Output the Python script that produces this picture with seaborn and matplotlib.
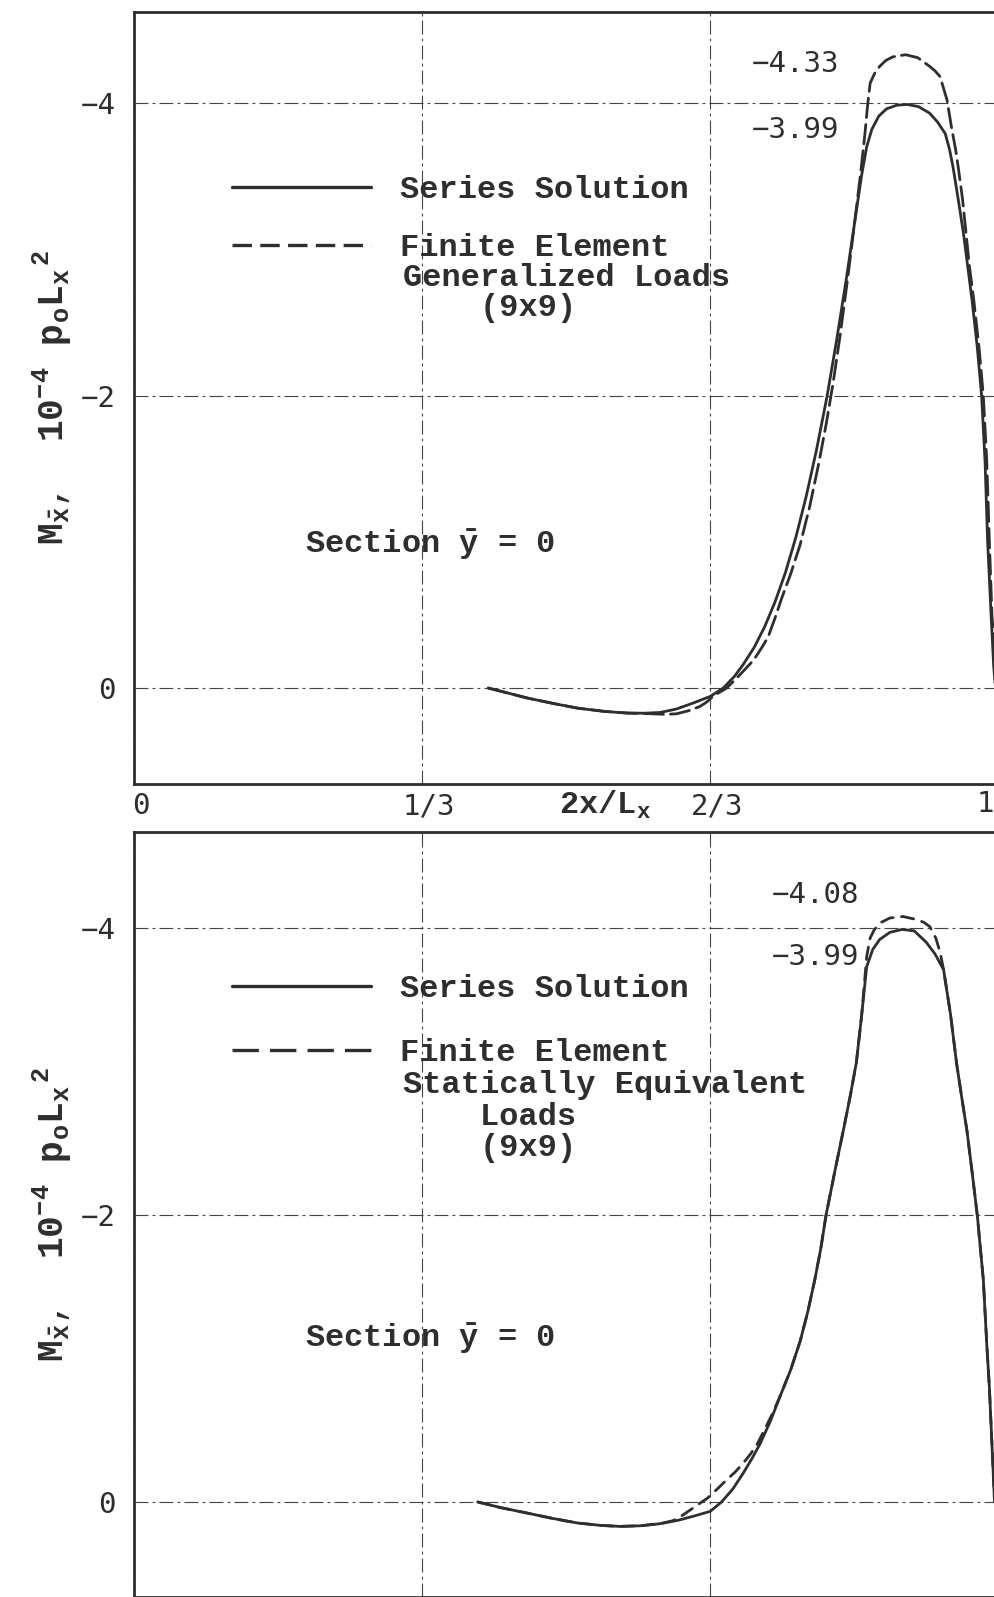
import numpy as np
import pandas as pd
import matplotlib
matplotlib.use("Agg")
import matplotlib.pyplot as plt
import matplotlib.transforms as mtransforms
import seaborn as sns
from matplotlib.lines import Line2D

# ---------------- data ----------------
x_ticks = [0, 1/3, 2/3, 1]
x_ticklabels = ["0", "1/3", "2/3", ""]
x_last_label = "1"
y_ticks = [-4, -2, 0]
y_ticklabels = ["\u22124", "\u22122", "0"]

# Top panel: Series solution
top_series_x = [0.410, 0.430, 0.455, 0.485, 0.513, 0.545, 0.571, 0.590, 0.609, 0.628,
                0.647, 0.667, 0.682, 0.695, 0.705, 0.718, 0.730, 0.742, 0.754, 0.766,
                0.778, 0.790, 0.802, 0.813, 0.824, 0.834, 0.842, 0.848, 0.854, 0.862,
                0.871, 0.883, 0.895, 0.908, 0.921, 0.930, 0.939, 0.944, 0.948, 0.954,
                0.960, 0.965, 0.970, 0.976, 0.981, 0.985, 0.988, 0.992, 0.995, 0.997]
top_series_y = [0.000, 0.030, 0.068, 0.105, 0.137, 0.160, 0.171, 0.172, 0.167, 0.143,
                0.103, 0.057, 0.000, -0.080, -0.160, -0.280, -0.420, -0.590, -0.790, -1.030,
                -1.310, -1.630, -1.990, -2.370, -2.780, -3.180, -3.500, -3.700, -3.820, -3.910,
                -3.960, -3.985, -3.990, -3.975, -3.930, -3.870, -3.790, -3.680, -3.560, -3.340,
                -3.110, -2.880, -2.650, -2.330, -2.000, -1.550, -1.000, -0.500, -0.150, 0.000]
# Top panel: Finite element, generalized loads (9x9)
top_fe_x = [0.410, 0.430, 0.455, 0.485, 0.513, 0.545, 0.571, 0.590, 0.600, 0.615,
            0.628, 0.642, 0.655, 0.663, 0.670, 0.678, 0.686, 0.701, 0.717, 0.727,
            0.734, 0.742, 0.750, 0.760, 0.771, 0.782, 0.792, 0.801, 0.809, 0.817,
            0.826, 0.834, 0.841, 0.846, 0.849, 0.852, 0.857, 0.863, 0.870, 0.878,
            0.893, 0.907, 0.921, 0.927, 0.933, 0.941, 0.946, 0.951, 0.954, 0.959,
            0.963, 0.967, 0.972, 0.978, 0.983, 0.987, 0.990, 0.993, 0.997, 0.999]
top_fe_y = [0.000, 0.030, 0.068, 0.105, 0.137, 0.160, 0.171, 0.174, 0.176, 0.180,
            0.176, 0.155, 0.126, 0.095, 0.057, 0.028, 0.000, -0.089, -0.190, -0.280,
            -0.350, -0.480, -0.620, -0.780, -0.980, -1.240, -1.520, -1.800, -2.080, -2.400,
            -2.800, -3.180, -3.520, -3.790, -3.980, -4.135, -4.200, -4.250, -4.290, -4.315,
            -4.330, -4.310, -4.250, -4.220, -4.180, -4.020, -3.840, -3.680, -3.560, -3.340,
            -3.110, -2.880, -2.650, -2.330, -2.000, -1.550, -1.000, -0.500, -0.150, 0.000]

# Bottom panel: Series solution
bot_series_x = [0.398, 0.425, 0.455, 0.485, 0.513, 0.540, 0.562, 0.585, 0.609, 0.630,
                0.647, 0.667, 0.680, 0.693, 0.705, 0.715, 0.725, 0.737, 0.748, 0.760,
                0.771, 0.780, 0.788, 0.795, 0.801, 0.811, 0.821, 0.829, 0.836, 0.842,
                0.848, 0.855, 0.863, 0.875, 0.889, 0.903, 0.917, 0.927, 0.937, 0.945,
                0.952, 0.958, 0.964, 0.970, 0.976, 0.983, 0.987, 0.990, 0.993, 0.996]
bot_series_y = [0.000, 0.040, 0.077, 0.115, 0.146, 0.163, 0.170, 0.166, 0.151, 0.127,
                0.100, 0.065, 0.000, -0.090, -0.200, -0.300, -0.410, -0.570, -0.740, -0.920,
                -1.120, -1.330, -1.550, -1.770, -2.000, -2.300, -2.590, -2.830, -3.060, -3.380,
                -3.730, -3.850, -3.920, -3.970, -3.990, -3.980, -3.900, -3.820, -3.710, -3.400,
                -3.060, -2.820, -2.590, -2.300, -2.000, -1.550, -1.100, -0.800, -0.400, 0.000]
# Bottom panel: Finite element, statically equivalent loads (9x9)
bot_fe_x = [0.398, 0.425, 0.455, 0.485, 0.513, 0.540, 0.562, 0.585, 0.609, 0.624,
            0.636, 0.647, 0.664, 0.675, 0.686, 0.696, 0.705, 0.713, 0.721, 0.732,
            0.740, 0.748, 0.760, 0.771, 0.780, 0.788, 0.795, 0.801, 0.811, 0.821,
            0.829, 0.836, 0.842, 0.848, 0.852, 0.857, 0.865, 0.875, 0.890, 0.905,
            0.914, 0.921, 0.928, 0.933, 0.937, 0.945, 0.952, 0.958, 0.964, 0.970,
            0.976, 0.983, 0.987, 0.990, 0.993, 0.996]
bot_fe_y = [0.000, 0.040, 0.077, 0.115, 0.146, 0.163, 0.170, 0.166, 0.151, 0.130,
            0.088, 0.042, -0.028, -0.090, -0.155, -0.210, -0.270, -0.330, -0.400, -0.530,
            -0.630, -0.740, -0.920, -1.120, -1.330, -1.550, -1.770, -2.000, -2.300, -2.590,
            -2.830, -3.060, -3.380, -3.800, -3.930, -3.990, -4.040, -4.070, -4.080, -4.060,
            -4.040, -4.010, -3.930, -3.830, -3.710, -3.400, -3.060, -2.820, -2.590, -2.300,
            -2.000, -1.550, -1.100, -0.800, -0.400, 0.000]

top_peak_labels = ["\u22124.33", "\u22123.99"]
bot_peak_labels = ["\u22124.08", "\u22123.99"]

# ---------------- styling ----------------
sns.set_style("white")
plt.rcParams['font.family'] = ['Liberation Mono', 'DejaVu Sans']
plt.rcParams['mathtext.fontset'] = 'custom'
plt.rcParams['mathtext.rm'] = 'Liberation Mono:bold'
plt.rcParams['mathtext.it'] = 'Liberation Mono:bold'
plt.rcParams['mathtext.bf'] = 'Liberation Mono:bold'
plt.rcParams['lines.scale_dashes'] = False

INK = '#2e2e2e'
W, H = 994, 1597
fig = plt.figure(figsize=(W / 100, H / 100), dpi=100)
fig.patch.set_facecolor('white')

X0PX, PPU = 134, 864
XMAX = 4 / 3
ax_top = fig.add_axes([X0PX / W, (H - 784) / H, XMAX * PPU / W, 772 / H])
ax_bot = fig.add_axes([X0PX / W, 0.0, XMAX * PPU / W, (H - 832) / H])

TXT = 23
WT = 'bold'
NUM = 21
YLAB = 26
ylabel = r"$\mathrm{M_{\bar{x}}}$,  $\mathrm{10^{-4}}$ $\mathrm{p_oL_x}^{\,\mathrm{2}}$"


def setup(ax, ylim, show_x):
    ax.set_xlim(0, XMAX)
    ax.set_ylim(*ylim)
    ax.set_xticks(x_ticks)
    ax.set_xticklabels(x_ticklabels if show_x else [""] * len(x_ticks))
    ax.set_yticks(y_ticks)
    ax.set_yticklabels(y_ticklabels)
    ax.tick_params(axis='both', length=0, labelsize=NUM, colors=INK)
    ax.tick_params(axis='y', pad=13)
    ax.tick_params(axis='x', pad=6)
    for lab in ax.get_xticklabels() + ax.get_yticklabels():
        lab.set_family('DejaVu Sans Mono')
    ax.grid(True, color=INK, lw=0.8, ls=(0, (10, 3, 2, 3)), alpha=0.9)
    for s in ['left', 'top', 'bottom']:
        ax.spines[s].set_visible(True)
        ax.spines[s].set_color(INK)
        ax.spines[s].set_linewidth(2.0)
    ax.spines['right'].set_visible(False)


setup(ax_top, (0.656, -4.622), True)
setup(ax_bot, (0.662, -4.669), False)

# shift x tick labels slightly right, as in the reference
offset = mtransforms.ScaledTranslation(7 / 100, 0, fig.dpi_scale_trans)
for lab in ax_top.get_xticklabels():
    lab.set_transform(lab.get_transform() + offset)
# the "1" label sits at the right edge of the (cropped) figure
ax_top.text(0.9954, -0.0265, x_last_label, transform=ax_top.get_xaxis_transform(),
            ha='right', va='center', fontsize=NUM, family='DejaVu Sans Mono', color=INK)


def draw(ax, xs, ys, dashes=None):
    df = pd.DataFrame({"x": xs, "y": ys})
    sns.lineplot(data=df, x="x", y="y", ax=ax, sort=False, estimator=None,
                 color=INK, lw=2.0)
    line = ax.lines[-1]
    line.set_solid_joinstyle('round')
    line.set_solid_capstyle('round')
    if dashes is not None:
        line.set_dashes(dashes)
        line.set_dash_capstyle('round')
        line.set_dash_joinstyle('round')


draw(ax_top, top_series_x, top_series_y)
draw(ax_top, top_fe_x, top_fe_y, dashes=(14, 5))
draw(ax_bot, bot_series_x, bot_series_y)
draw(ax_bot, bot_fe_x, bot_fe_y, dashes=(9, 6))

for ax in (ax_top, ax_bot):
    ax.set_xlabel("")
    ax.set_ylabel(ylabel, fontsize=YLAB, color=INK)
    ax.yaxis.set_label_coords(-0.052, 0.5)

# x axis label (top panel)
ax_top.text(0.409, -0.027, r"$\mathrm{2x/L_x}$", transform=ax_top.transAxes,
            ha='center', va='center', fontsize=TXT, color=INK)


def legend(ax, ypos, dashes, spacing, extra_lines, extra_y):
    h1 = Line2D([], [], color=INK, lw=2.4)
    h2 = Line2D([], [], color=INK, lw=2.4, dashes=dashes)
    ax.legend([h1, h2], ["Series Solution", "Finite Element"], loc='upper left',
              bbox_to_anchor=(0.085, ypos), frameon=False,
              prop={'family': 'Liberation Mono', 'size': TXT, 'weight': WT},
              handlelength=4.35, handletextpad=0.9, labelspacing=spacing,
              borderpad=0, borderaxespad=0, labelcolor=INK)
    for t, yy in zip(extra_lines, extra_y):
        ax.text(0.2335, yy, t, transform=ax.transAxes, ha='left', va='center',
                fontsize=TXT, weight=WT, color=INK)


legend(ax_top, 0.789, (14, 6), 0.88, ["Generalized Loads", "    (9x9)"], [0.655, 0.616])
legend(ax_bot, 0.814, (19, 8), 1.05, ["Statically Equivalent", "    Loads", "    (9x9)"],
       [0.669, 0.628, 0.587])

# section labels
for ax, yy in ((ax_top, -0.98), (ax_bot, -1.14)):
    ax.text(0.343, yy, r"Section $\mathrm{\bar{y}}$ = 0", ha='center', va='center',
            fontsize=TXT, weight=WT, color=INK)

# peak value labels
for t, yy in zip(top_peak_labels, [-4.267, -3.815]):
    ax_top.text(0.766, yy, t, ha='center', va='center', fontsize=NUM,
                family='DejaVu Sans Mono', color=INK)
for t, yy in zip(bot_peak_labels, [-4.23, -3.80]):
    ax_bot.text(0.789, yy, t, ha='center', va='center', fontsize=NUM,
                family='DejaVu Sans Mono', color=INK)

fig.savefig("out.png", dpi=100, facecolor='white')
